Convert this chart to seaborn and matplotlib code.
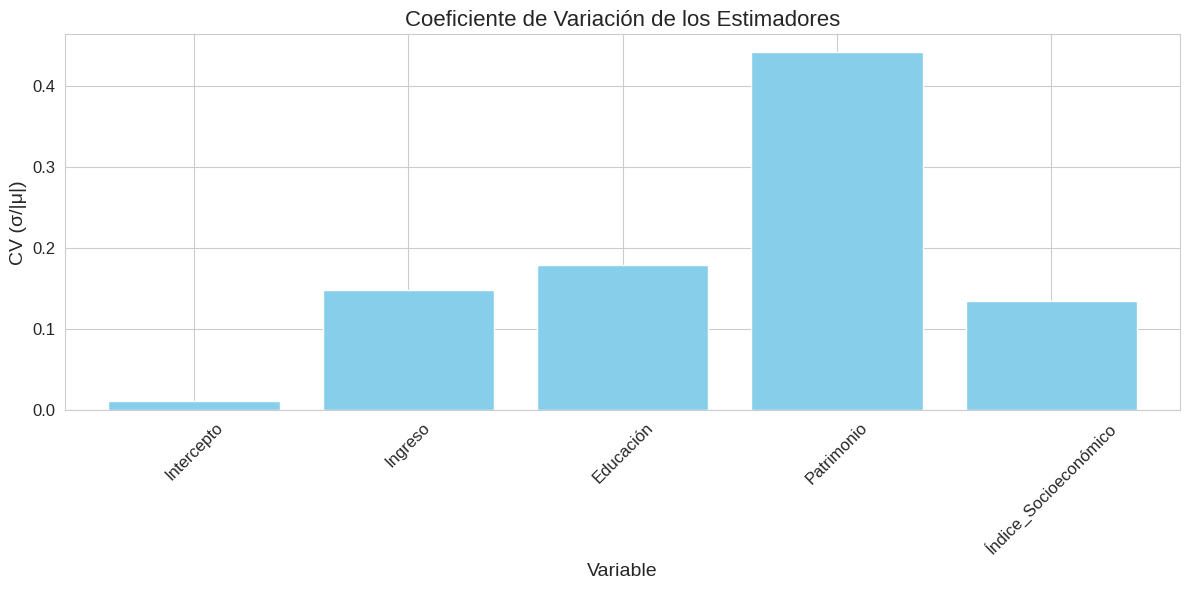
import matplotlib
matplotlib.use("Agg")
import matplotlib.pyplot as plt
import seaborn as sns
import pandas as pd

variables = ["Intercepto", "Ingreso", "Educación", "Patrimonio", "Índice_Socioeconómico"]
cv_values = [0.011, 0.148, 0.179, 0.442, 0.135]

sns.set_style("whitegrid")
plt.rcParams['font.family'] = ['Liberation Sans', 'DejaVu Sans']

df = pd.DataFrame({"Variable": variables, "CV": cv_values})
fig, ax = plt.subplots(figsize=(12, 6), dpi=100)
sns.barplot(data=df, x="Variable", y="CV", color="skyblue", saturation=1, width=0.8, ax=ax)
ax.set_axisbelow(True)
ax.set_title("Coeficiente de Variación de los Estimadores", fontsize=16)
ax.set_xlabel("Variable", fontsize=14)
ax.set_ylabel("CV (σ/|μ|)", fontsize=14)
ax.tick_params(axis='both', labelsize=12)
plt.setp(ax.get_xticklabels(), rotation=45)
ax.set_xlim(-0.5 - 0.1, 4.5 + 0.1)
ax.grid(True, axis='both')
plt.tight_layout()
fig.savefig("out.png", bbox_inches="tight")
